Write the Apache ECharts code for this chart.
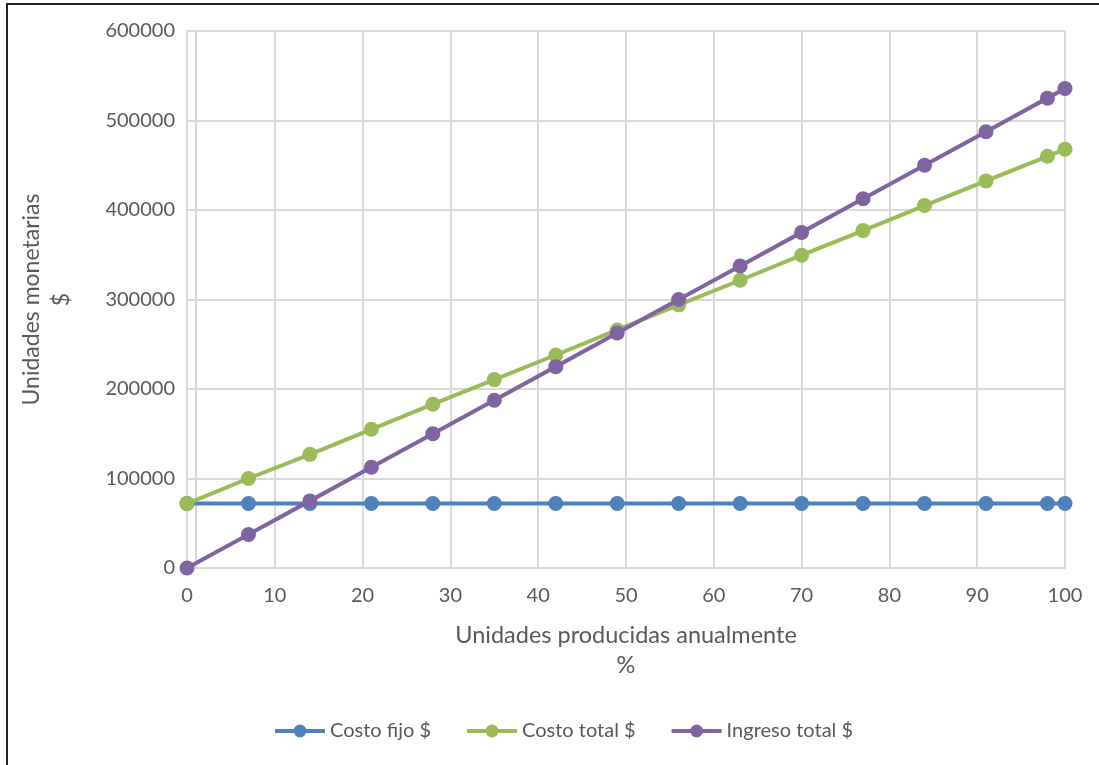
<!DOCTYPE html>
<html>
<head>
<meta charset="utf-8">
<script src="https://cdn.jsdelivr.net/npm/echarts@6/dist/echarts.min.js"></script>
<style>
  html, body { margin: 0; padding: 0; background: #fff; }
  #chart { width: 1099px; height: 765px; }
</style>
</head>
<body>
<div id="chart"></div>
<script>
// Porcentaje de unidades producidas anualmente
const unidades = [0, 7, 14, 21, 28, 35, 42, 49, 56, 63, 70, 77, 84, 91, 98, 100];
// Costo fijo ($)
const costoFijo = [72000, 72000, 72000, 72000, 72000, 72000, 72000, 72000, 72000, 72000, 72000, 72000, 72000, 72000, 72000, 72000];
// Costo total ($)
const costoTotal = [72000, 100000, 127000, 155000, 183000, 210500, 238000, 266000, 294000, 321500, 349500, 377000, 405000, 432500, 460000, 468000];
// Ingreso total ($)
const ingresoTotal = [0, 37500, 75000, 112500, 150000, 187500, 225000, 262500, 300000, 337500, 375000, 412500, 450000, 487500, 525000, 535700];

const seriesNames = ['Costo fijo $', 'Costo total $', 'Ingreso total $'];
const seriesColors = ['#4f81bd', '#9bbb59', '#8064a2'];
const seriesData = [costoFijo, costoTotal, ingresoTotal];

const FONT = 'Lato';
const TEXT = '#595959';
const GRID = '#d9d9d9';

const pairs = arr => unidades.map((u, i) => [u, arr[i]]);

const series = seriesNames.map((name, k) => ({
  name,
  type: 'line',
  data: pairs(seriesData[k]),
  symbol: 'circle',
  symbolSize: 15,
  showSymbol: true,
  lineStyle: { width: 4, color: seriesColors[k] },
  itemStyle: { color: seriesColors[k] },
  z: 3 + k
}));

// vertical reference line next to the value axis
series[0].markLine = {
  silent: true,
  symbol: 'none',
  label: { show: false },
  lineStyle: { color: GRID, type: 'solid', width: 2 },
  data: [{ xAxis: 1 }],
  z: 1
};

const chart = echarts.init(document.getElementById('chart'), null, { renderer: 'canvas' });
chart.setOption({
  animation: false,
  backgroundColor: '#fff',
  textStyle: { fontFamily: FONT },
  graphic: [{
    type: 'rect',
    shape: { x: 7, y: 4, width: 1200, height: 1000 },
    style: { fill: 'none', stroke: '#222', lineWidth: 2 },
    silent: true,
    z: 100
  }],
  grid: { left: 187, right: 34, top: 31, bottom: 197, containLabel: false },
  legend: {
    data: seriesNames,
    top: 716,
    left: 268,
    itemWidth: 50,
    itemHeight: 16,
    itemGap: 34,
    lineStyle: { width: 4 },
    textStyle: { color: TEXT, fontSize: 20, fontFamily: FONT }
  },
  xAxis: {
    type: 'value',
    min: 0,
    max: 100,
    interval: 10,
    name: 'Unidades producidas anualmente\n%',
    nameLocation: 'middle',
    nameGap: 52,
    nameTextStyle: { color: TEXT, fontSize: 23.5, fontFamily: FONT, lineHeight: 30 },
    axisLine: { show: true, lineStyle: { color: GRID, width: 2 } },
    axisTick: { show: false },
    axisLabel: { color: TEXT, fontSize: 20, fontFamily: FONT, margin: 18 },
    splitLine: { show: true, lineStyle: { color: GRID, width: 2 } }
  },
  yAxis: {
    type: 'value',
    min: 0,
    max: 600000,
    interval: 100000,
    name: 'Unidades monetarias\n$',
    nameLocation: 'middle',
    nameRotate: 90,
    nameGap: 110,
    nameTextStyle: { color: TEXT, fontSize: 23, fontFamily: FONT, lineHeight: 30 },
    axisLine: { show: true, lineStyle: { color: GRID, width: 2 } },
    axisTick: { show: false },
    axisLabel: { color: TEXT, fontSize: 20, fontFamily: FONT, margin: 12, formatter: v => String(v) },
    splitLine: { show: true, lineStyle: { color: GRID, width: 2 } }
  },
  series
});
</script>
</body>
</html>
